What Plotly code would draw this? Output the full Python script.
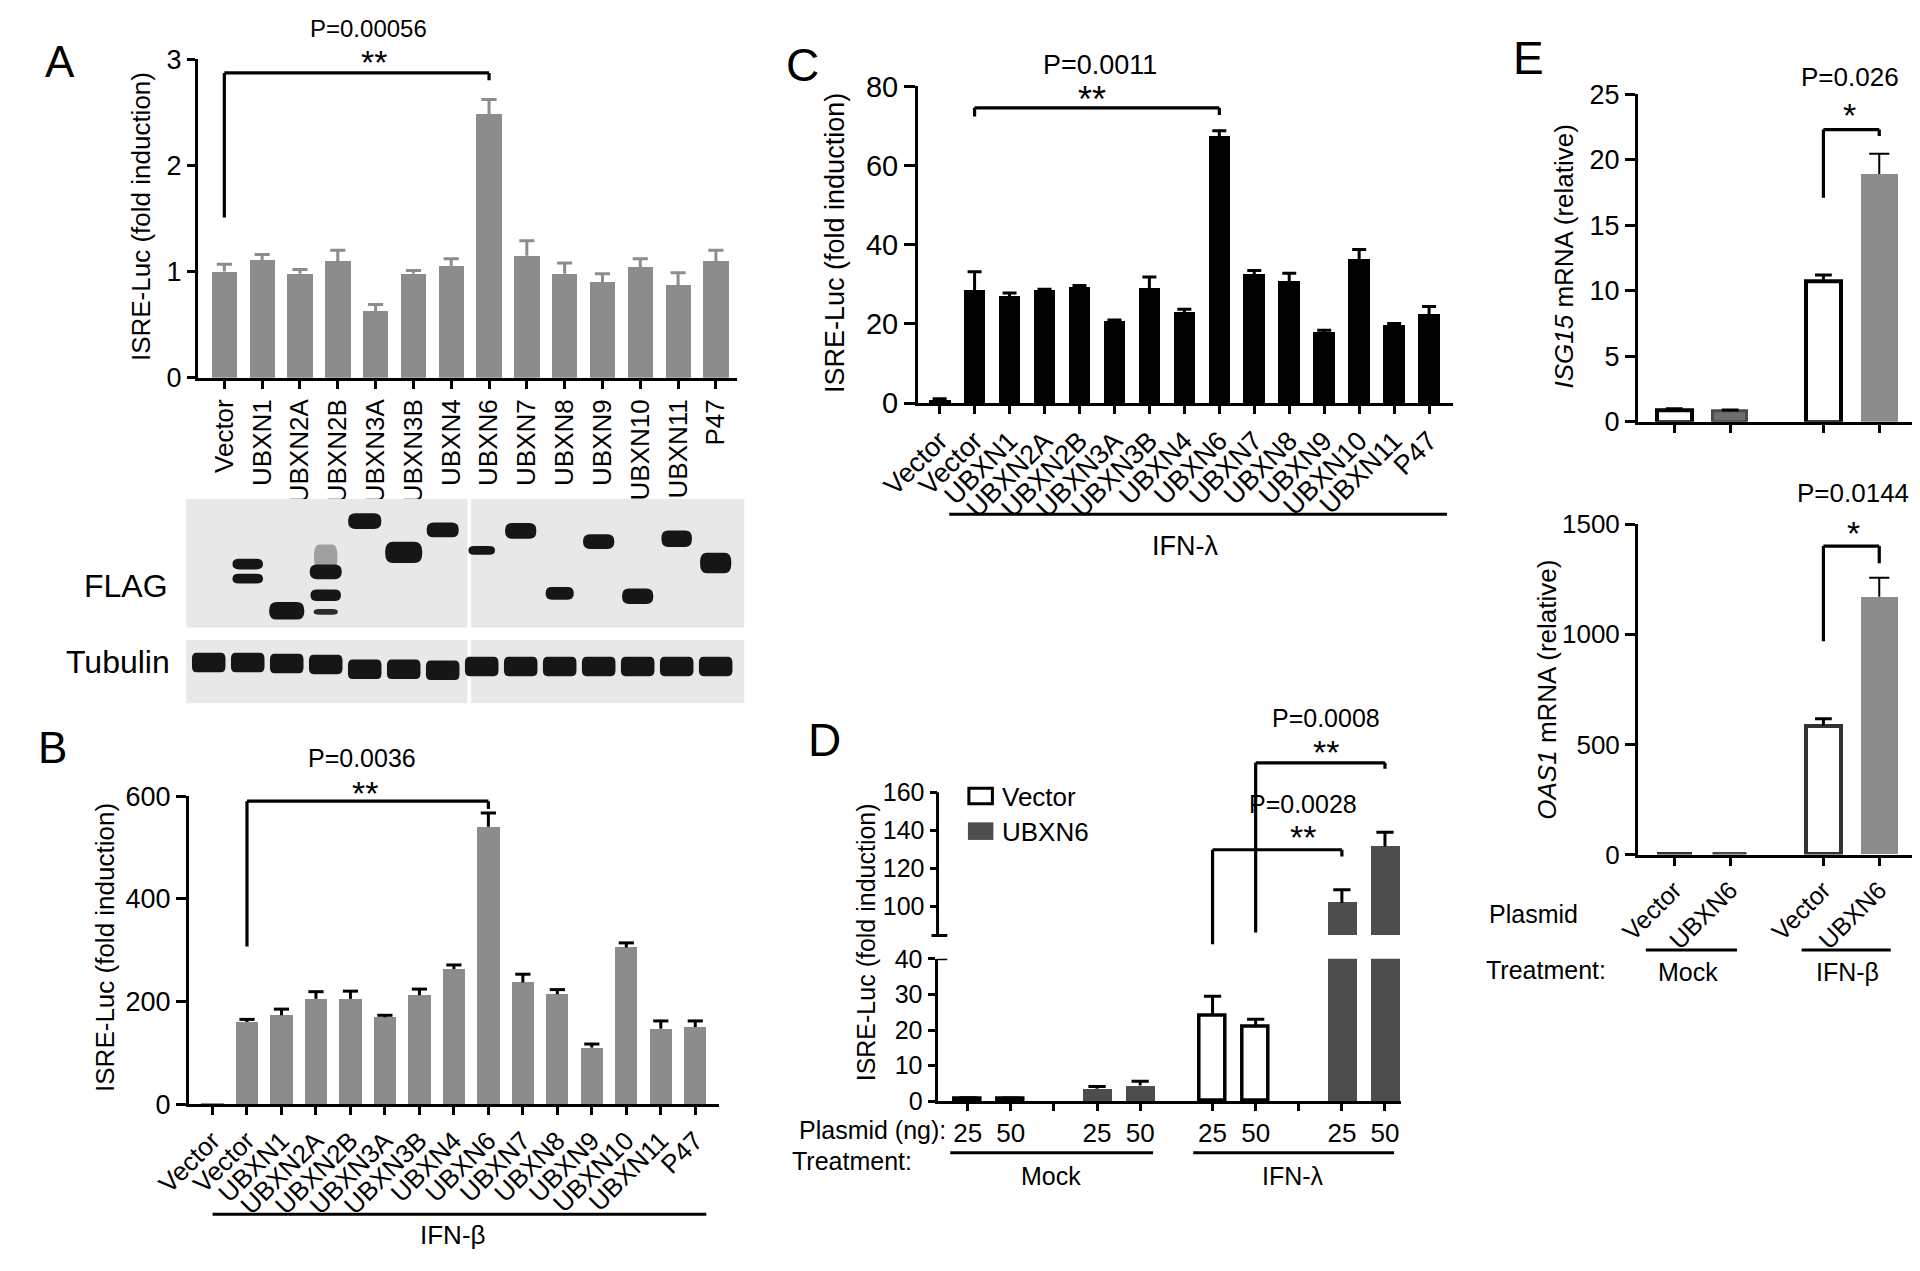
import plotly.graph_objects as go

W, H = 1920, 1271
OFF = 8                      # default body margin of the html page
FA = "Liberation Sans, Arial, Helvetica, sans-serif"

# ---------------- DATA ----------------
# Panel A (ISRE-Luc, no IFN)
a_labels = ["Vector", "UBXN1", "UBXN2A", "UBXN2B", "UBXN3A", "UBXN3B", "UBXN4",
            "UBXN6", "UBXN7", "UBXN8", "UBXN9", "UBXN10", "UBXN11", "P47"]
a_vals = [1.00, 1.11, 0.98, 1.10, 0.63, 0.98, 1.05, 2.48, 1.15, 0.98, 0.90, 1.04, 0.87, 1.10]
a_err = [0.07, 0.05, 0.04, 0.10, 0.06, 0.03, 0.07, 0.14, 0.14, 0.10, 0.08, 0.08, 0.12, 0.10]

# Western blot: lane index, migration from top of FLAG panel, band height, band width (lanes), intensity
flag_lane = [1, 1, 2, 3, 3, 3, 3, 4, 5, 6, 7, 8, 9, 10, 11, 12, 13]
flag_pos = [67, 82, 115, 60, 75, 99, 116, 23, 55, 32, 53, 33, 97, 44, 100, 41, 66]
flag_h = [11, 10, 18, 26, 15, 12, 6, 16, 22, 15, 9, 16, 13, 15, 16, 17, 21]
flag_w = [0.78, 0.78, 0.9, 0.6, 0.82, 0.78, 0.62, 0.85, 0.95, 0.82, 0.68, 0.8, 0.72, 0.8, 0.8, 0.78, 0.8]
flag_alpha = [1, 1, 1, 0.35, 1, 1, 0.9, 1, 1, 1, 1, 1, 1, 1, 1, 1, 1]
tub_pos = [168, 168, 169, 170, 175, 175, 176, 172, 172, 172, 172, 172, 172, 172]

# Panel B (IFN-beta)
b_labels = ["Vector", "Vector", "UBXN1", "UBXN2A", "UBXN2B", "UBXN3A", "UBXN3B", "UBXN4",
            "UBXN6", "UBXN7", "UBXN8", "UBXN9", "UBXN10", "UBXN11", "P47"]
b_vals = [1, 160, 173, 205, 205, 169, 212, 263, 540, 237, 214, 110, 305, 147, 150]
b_err = [0, 5, 12, 14, 15, 4, 12, 8, 27, 16, 9, 7, 9, 15, 12]

# Panel C (IFN-lambda)
c_labels = b_labels
c_vals = [0.8, 28.4, 27.1, 28.4, 29.2, 20.6, 29.1, 23.0, 67.5, 32.6, 30.8, 17.8, 36.2, 19.7, 22.4]
c_err = [0.3, 4.8, 0.7, 0.4, 0.5, 0.4, 2.8, 0.7, 1.3, 0.9, 2.0, 0.6, 2.6, 0.4, 2.0]

# Panel D (dose, Mock vs IFN-lambda)
d_groups = ["Mock", "IFN-λ"]
d_ng = ["25", "50"]
d_vec_vals = [0.7, 0.6, 24.0, 20.8]
d_vec_err = [0.3, 0.3, 5.5, 2.2]
d_ubx_vals = [3.5, 4.4, 101.8, 131.4]
d_ubx_err = [0.6, 1.2, 6.8, 7.5]

# Panel E (qPCR)
e_plasmid = ["Vector", "UBXN6", "Vector", "UBXN6"]
e_treat = ["Mock", "IFN-β"]
e_isg_vals = [0.87, 0.78, 10.75, 18.9]
e_isg_err = [0.13, 0.12, 0.45, 1.55]
e_oas_vals = [3, 2, 585, 1170]
e_oas_err = [0, 0, 31, 86]

# ---------------- helpers (layout positions given in page pixels) ----------------
def px(x):
    return (x - OFF) / W

def py(y):
    return 1 - (y - OFF) / H

def domx(p0, p1):
    return [px(p0), px(p1)]

def domy(top, bottom):
    return [py(bottom), py(top)]

fig = go.Figure()
shapes = []
ann = []

def text(x, y, s, size, xanchor="center", yanchor="middle", angle=0):
    ann.append(dict(x=px(x), y=py(y), xref="paper", yref="paper", text=s, showarrow=False,
                    font=dict(size=size, family=FA, color="black"), xanchor=xanchor,
                    yanchor=yanchor, textangle=angle))

def hline(x0, x1, y, w=3):
    shapes.append(dict(type="line", xref="paper", yref="paper", x0=px(x0), x1=px(x1), y0=py(y), y1=py(y),
                       line=dict(color="black", width=w)))

def errtrace(xs, vals, errs, xa, ya, color, w, half):
    ex, ey = [], []
    for x, v, e in zip(xs, vals, errs):
        if e <= 0:
            continue
        ex += [x, x, None, x - half, x + half, None]
        ey += [v, v + e, None, v + e, v + e, None]
    fig.add_trace(go.Scatter(x=ex, y=ey, mode="lines", line=dict(color=color, width=w),
                             xaxis=xa, yaxis=ya, showlegend=False, hoverinfo="skip"))

def bracket(xa, ya, x0, y0, ytop, x1, y1, w=3.2):
    for (u0, v0, u1, v1) in [(x0, y0, x0, ytop), (x0, ytop, x1, ytop), (x1, ytop, x1, y1)]:
        shapes.append(dict(type="line", xref=xa, yref=ya, x0=u0, y0=v0, x1=u1, y1=v1,
                           line=dict(color="black", width=w)))

def rrect(x0, x1, y0, y1, rx, ry):
    return ("M{a},{b} L{c},{b} Q{x1},{y0} {x1},{d} L{x1},{e} Q{x1},{y1} {c},{y1} "
            "L{a},{y1} Q{x0},{y1} {x0},{e} L{x0},{d} Q{x0},{y0} {a},{y0} Z").format(
        a=x0 + rx, b=y0, c=x1 - rx, d=y0 + ry, e=y1 - ry, x0=x0, x1=x1, y0=y0, y1=y1)

def axstyle(**kw):
    d = dict(showgrid=False, zeroline=False, showline=True, linecolor="black", linewidth=3,
             ticks="outside", tickcolor="black", tickwidth=3, ticklen=8, fixedrange=True)
    d.update(kw)
    return d

layout = {}

# ---------------- Panel A ----------------
ax = list(range(len(a_labels)))
fig.add_trace(go.Bar(x=ax, y=a_vals, width=0.67, marker=dict(color="#8c8c8c", line=dict(width=0)),
                     xaxis="x", yaxis="y", showlegend=False))
errtrace(ax, a_vals, a_err, "x", "y", "#8c8c8c", 3, 0.2)
layout["xaxis"] = axstyle(domain=domx(162, 712), range=[-0.7, 13.55], anchor="y",
                          tickvals=ax, ticktext=a_labels, tickangle=-90,
                          tickfont=dict(family=FA, size=26))
layout["yaxis"] = axstyle(domain=domy(44, 371), range=[0, 3], anchor="x", tickvals=[0, 1, 2, 3],
                          tickfont=dict(family=FA, size=27))
bracket("x", "y", 0, 1.51, 2.87, 7, 2.80)
text(336, 13, "P=0.00056", 24)
text(342, 47, "**", 34)
text(104, 206, "ISRE-Luc (fold induction)", 26, angle=-90)
text(21, 46, "A", 44)

# ---------------- Western blot ----------------
layout["xaxis2"] = dict(domain=domx(150, 720), range=[-0.58, 13.74], visible=False, anchor="y2", fixedrange=True)
layout["yaxis2"] = dict(domain=domy(495, 705), range=[210, 0], visible=False, anchor="x2", fixedrange=True)
fig.add_trace(go.Scatter(x=[0, 13], y=[0, 210], mode="markers", marker=dict(opacity=0),
                         xaxis="x2", yaxis="y2", showlegend=False, hoverinfo="skip"))
for (l0, l1) in [(-0.58, 6.63), (6.73, 13.74)]:
    for (t0, t1) in [(0, 132), (145, 210)]:
        shapes.append(dict(type="rect", xref="x2", yref="y2", x0=l0, x1=l1, y0=t0, y1=t1,
                           fillcolor="#e8e8e8", line=dict(width=0), layer="below"))
for ln, pos, hh, ww, al in zip(flag_lane, flag_pos, flag_h, flag_w, flag_alpha):
    shapes.append(dict(type="path", xref="x2", yref="y2",
                       path=rrect(ln - ww / 2, ln + ww / 2, pos - hh / 2, pos + hh / 2, ww * 0.22, hh * 0.45),
                       fillcolor="rgba(22,22,22,%s)" % al, line=dict(width=0)))
for ln, pos in enumerate(tub_pos):
    shapes.append(dict(type="path", xref="x2", yref="y2",
                       path=rrect(ln - 0.43, ln + 0.43, pos - 10, pos + 10, 0.12, 6),
                       fillcolor="#161616", line=dict(width=0)))
text(89, 585, "FLAG", 32)
text(80, 662, "Tubulin", 32)

# ---------------- Panel B ----------------
bx = list(range(len(b_labels)))
fig.add_trace(go.Bar(x=bx, y=b_vals, width=0.65, marker=dict(color="#8c8c8c", line=dict(width=0)),
                     xaxis="x3", yaxis="y3", showlegend=False))
errtrace(bx, b_vals, b_err, "x3", "y3", "black", 3, 0.22)
layout["xaxis3"] = axstyle(domain=domx(153, 694), range=[-0.68, 14.69], anchor="y3",
                           tickvals=bx, ticktext=b_labels, tickangle=-45,
                           tickfont=dict(family=FA, size=26))
layout["yaxis3"] = axstyle(domain=domy(800, 1116), range=[0, 600], anchor="x3",
                           tickvals=[0, 200, 400, 600], ticklen=10, tickfont=dict(family=FA, size=27))
bracket("x3", "y3", 1, 307, 590, 8, 575)
text(330, 761, "P=0.0036", 25)
text(333, 797, "**", 34)
text(67, 955, "ISRE-Luc (fold induction)", 26, angle=-90)
text(14, 750, "B", 44)
hline(177, 681, 1229)
text(422, 1250, "IFN-β", 26)

# ---------------- Panel C ----------------
cx = list(range(len(c_labels)))
fig.add_trace(go.Bar(x=cx, y=c_vals, width=0.62, marker=dict(color="black", line=dict(width=0)),
                     xaxis="x4", yaxis="y4", showlegend=False))
errtrace(cx, c_vals, c_err, "x4", "y4", "black", 3, 0.2)
layout["xaxis4"] = axstyle(domain=domx(897, 1443), range=[-0.62, 14.68], anchor="y4",
                           tickvals=cx, ticktext=c_labels, tickangle=-45,
                           tickfont=dict(family=FA, size=27))
layout["yaxis4"] = axstyle(domain=domy(72, 397), range=[0, 80], anchor="x4",
                           tickvals=[0, 20, 40, 60, 80], ticklen=11, tickfont=dict(family=FA, size=29))
bracket("x4", "y4", 1, 72.4, 74.6, 8, 72.8)
text(1083, 50, "P=0.0011", 27)
text(1075, 85, "**", 36)
text(813, 233, "ISRE-Luc (fold induction)", 27, angle=-90)
text(779, 50, "C", 46)
hline(929, 1437, 511)
text(1170, 543, "IFN-λ", 27)

# ---------------- Panel D ----------------
gap = 5.68
dx_vec = [g * gap + k for g in range(2) for k in range(2)]
dx_ubx = [g * gap + 3 + k for g in range(2) for k in range(2)]
dticks = [g * gap + k for g in range(2) for k in range(5)]
dtext = [d_ng[0], d_ng[1], "", d_ng[0], d_ng[1]] * 2
ubx_break = 84.6
for ya in ["y5", "y6"]:
    fig.add_trace(go.Bar(x=dx_vec, y=d_vec_vals, width=0.6,
                         marker=dict(color="white", line=dict(color="black", width=3.5)),
                         xaxis="x5", yaxis=ya, showlegend=False))
fig.add_trace(go.Bar(x=dx_ubx, y=d_ubx_vals, width=0.66, marker=dict(color="#4d4d4d", line=dict(width=0)),
                     xaxis="x5", yaxis="y5", showlegend=False))
up_x = [x for x, v in zip(dx_ubx, d_ubx_vals) if v > 40]
up_v = [v for v in d_ubx_vals if v > 40]
up_e = [e for e, v in zip(d_ubx_err, d_ubx_vals) if v > 40]
fig.add_trace(go.Bar(x=up_x, y=[v - ubx_break for v in up_v], base=ubx_break, width=0.66,
                     marker=dict(color="#4d4d4d", line=dict(width=0)),
                     xaxis="x5", yaxis="y6", showlegend=False))
errtrace(dx_vec, d_vec_vals, d_vec_err, "x5", "y5", "black", 3, 0.2)
errtrace(dx_ubx, d_ubx_vals, d_ubx_err, "x5", "y5", "black", 3, 0.2)
errtrace(up_x, up_v, up_e, "x5", "y6", "black", 3, 0.2)
layout["xaxis5"] = axstyle(domain=domx(917, 1390), range=[-0.7, 10.05], anchor="y5",
                           tickvals=dticks, ticktext=dtext, ticklen=7,
                           tickfont=dict(family=FA, size=26))
layout["yaxis5"] = axstyle(domain=domy(967, 1113), range=[0, 40], anchor="x5",
                           tickvals=[0, 10, 20, 30, 40], ticklen=7, tickfont=dict(family=FA, size=25))
layout["yaxis6"] = axstyle(domain=domy(708, 956), range=[77.95, 205.1], anchor="x5", showline=False,
                           tickvals=[100, 120, 140, 160], ticklen=7, tickfont=dict(family=FA, size=25))
# broken axis line segments
shapes.append(dict(type="line", xref="x5 domain", yref="y6", x0=0, x1=0, y0=ubx_break, y1=160,
                   line=dict(color="black", width=3)))
shapes.append(dict(type="line", xref="x5 domain", yref="y6", x0=-0.013, x1=0.021, y0=ubx_break, y1=ubx_break,
                   line=dict(color="black", width=3)))
shapes.append(dict(type="line", xref="x5 domain", yref="y5", x0=0, x1=0.021, y0=40, y1=40,
                   line=dict(color="black", width=3)))
bracket("x5", "y6", dx_vec[2], 80.0, 129.7, dx_ubx[2], 126.2)
bracket("x5", "y6", dx_vec[3], 86.2, 175.4, dx_ubx[3], 172.3)
text(1290, 808, "P=0.0028", 25)
text(1290, 842, "**", 34)
text(1314, 720, "P=0.0008", 25)
text(1314, 755, "**", 34)
text(844, 950, "ISRE-Luc (fold induction)", 25, angle=-90)
text(802, 742, "D", 46)
# legend
shapes.append(dict(type="rect", xref="paper", yref="paper", x0=px(949), x1=px(973), y0=py(808), y1=py(792),
                   fillcolor="white", line=dict(color="black", width=3)))
shapes.append(dict(type="rect", xref="paper", yref="paper", x0=px(948), x1=px(974), y0=py(845), y1=py(827),
                   fillcolor="#4d4d4d", line=dict(width=0)))
text(981, 801, "Vector", 26, xanchor="left")
text(981, 837, "UBXN6", 26, xanchor="left")
text(928, 1143, "Plasmid (ng):", 25, xanchor="right")
text(893, 1174, "Treatment:", 25, xanchor="right")
for (l0, l1, cxm, lab) in [(930, 1137, 1033, d_groups[0]), (1178, 1383, 1280, d_groups[1])]:
    hline(l0, l1, 1166)
    text(cxm, 1190, lab, 25)

# ---------------- Panel E ----------------
ex = [0, 1, 2.67, 3.67]
for yk, xa, vals, errs in [("y7", "x7", e_isg_vals, e_isg_err), ("y8", "x8", e_oas_vals, e_oas_err)]:
    fig.add_trace(go.Bar(x=[ex[0], ex[2]], y=[vals[0], vals[2]], width=0.62,
                         marker=dict(color="white", line=dict(color="black" if yk == "y7" else "#333333", width=4)),
                         xaxis=xa, yaxis=yk, showlegend=False))
    fig.add_trace(go.Bar(x=[ex[1]], y=[vals[1]], width=0.62,
                         marker=dict(color="#6e6e6e", line=dict(color="#4a4a4a", width=3)),
                         xaxis=xa, yaxis=yk, showlegend=False))
    fig.add_trace(go.Bar(x=[ex[3]], y=[vals[3]], width=0.66,
                         marker=dict(color="#8c8c8c", line=dict(width=0)),
                         xaxis=xa, yaxis=yk, showlegend=False))
    errtrace(ex[:3], vals[:3], errs[:3], xa, yk, "black", 3, 0.15)
    errtrace(ex[3:], vals[3:], errs[3:], xa, yk, "black", 2, 0.18)
layout["xaxis7"] = axstyle(domain=domx(1632, 1917), range=[-0.65, 4.35], anchor="y7",
                           tickvals=ex, showticklabels=False)
layout["yaxis7"] = axstyle(domain=domy(80, 416), range=[0, 25], anchor="x7", ticklen=10,
                           tickvals=[0, 5, 10, 15, 20, 25], tickfont=dict(family=FA, size=27))
layout["xaxis8"] = axstyle(domain=domx(1632, 1917), range=[-0.65, 4.35], anchor="y8",
                           tickvals=ex, ticktext=e_plasmid, tickangle=-45,
                           tickfont=dict(family=FA, size=25))
layout["yaxis8"] = axstyle(domain=domy(521, 860), range=[0, 1500], anchor="x8", ticklen=10,
                           tickvals=[0, 500, 1000, 1500], tickfont=dict(family=FA, size=26))
bracket("x7", "y7", ex[2], 17.1, 22.3, ex[3], 21.8)
bracket("x8", "y8", ex[2], 968, 1400, ex[3], 1322)
text(1848, 62, "P=0.026", 26)
text(1848, 101, "*", 34)
text(1851, 489, "P=0.0144", 26)
text(1852, 530, "*", 34)
text(1556, 247, "<i>ISG15</i> mRNA (relative)", 26, angle=-90)
text(1539, 691, "<i>OAS1</i> mRNA (relative)", 26, angle=-90)
text(1520, 43, "E", 46)
text(1525, 921, "Plasmid", 25)
text(1538, 978, "Treatment:", 25)
for (l0, l1, cxm, lab) in [(1640, 1733, 1683, e_treat[0]), (1799, 1890, 1846, e_treat[1])]:
    hline(l0, l1, 958)
    text(cxm, 980, lab, 25)

fig.update_layout(width=W, height=H, margin=dict(l=0, r=0, t=0, b=0), paper_bgcolor="white",
                  plot_bgcolor="rgba(0,0,0,0)", showlegend=False, bargap=0,
                  shapes=shapes, annotations=ann, font=dict(family=FA, color="black"), **layout)
fig.write_html("out.html")
